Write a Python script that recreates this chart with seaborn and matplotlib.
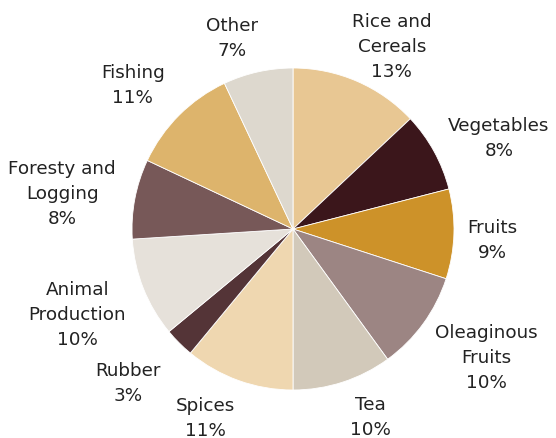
import numpy as np
import matplotlib
matplotlib.use("Agg")
import matplotlib.pyplot as plt
import seaborn as sns

# Share of agricultural output by sector (percent)
sectors = ["Rice and\nCereals", "Vegetables", "Fruits", "Oleaginous\nFruits", "Tea",
           "Spices", "Rubber", "Animal\nProduction", "Foresty and\nLogging", "Fishing", "Other"]
shares = [13, 8, 9, 10, 10, 11, 3, 10, 8, 11, 7]
colors = ["#E8C793", "#3B161B", "#CD9229", "#9C8583", "#D2C9BA",
          "#EFD7B0", "#543437", "#E6E1DA", "#775858", "#DDB46C", "#DDD8CE"]

# Label placement: radial distance (in pie radii) and angular nudge (degrees)
label_dist = [1.29, 1.40, 1.24, 1.44, 1.26, 1.29, 1.40, 1.44, 1.45, 1.34, 1.25]
label_nudge = [-5, -4.8, -1.1, 2.6, 4.3, -5.2, -2, 0, 2, 3, 5]

sns.set_theme(style="white")
plt.rcParams["font.family"] = ["DejaVu Sans"]

W, H, DPI = 556, 439, 100
fig = plt.figure(figsize=(W / DPI, H / DPI), dpi=DPI)
ax = fig.add_axes([0, 0, 1, 1])

cx, cy, r = 293.0, 230.0, 161.0
wedges, _ = ax.pie(shares, colors=colors, startangle=90, counterclock=False,
                   radius=1.0, wedgeprops=dict(edgecolor="white", linewidth=0.6))

for w, name, val, d, nudge in zip(wedges, sectors, shares, label_dist, label_nudge):
    mid = np.deg2rad((w.theta1 + w.theta2) / 2 + nudge)
    ax.text(d * np.cos(mid), d * np.sin(mid), f"{name}\n{val}%",
            ha="center", va="center", multialignment="center",
            fontsize=13.2, color="#222222", linespacing=1.5)

ax.set_xlim(-cx / r, (W - cx) / r)
ax.set_ylim(-(H - cy) / r, cy / r)
ax.set_aspect("auto")
ax.axis("off")

fig.savefig("out.png", dpi=DPI, facecolor="white")
